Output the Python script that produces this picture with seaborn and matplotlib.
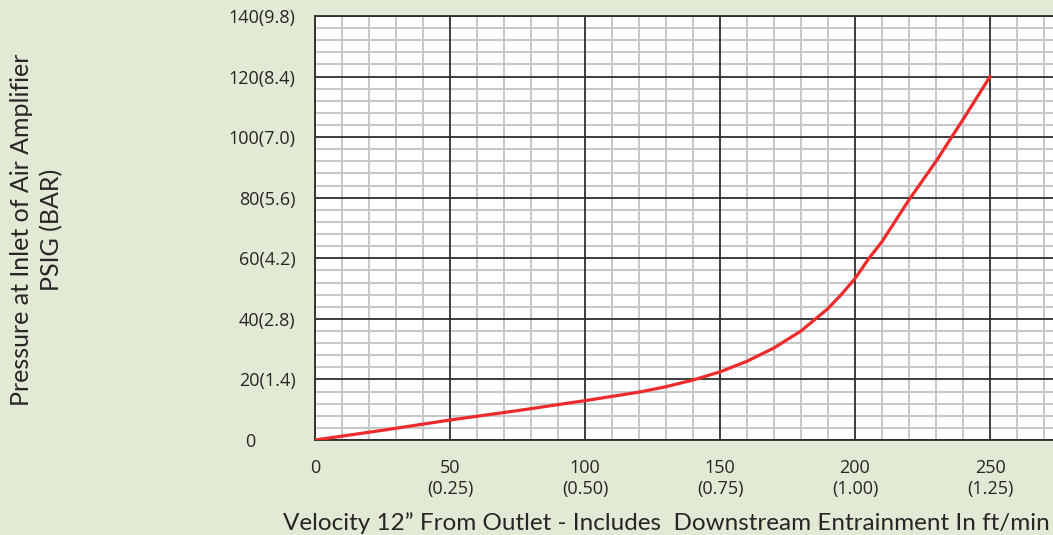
import matplotlib
matplotlib.use("Agg")
import matplotlib.pyplot as plt
import matplotlib.transforms as mtransforms
from matplotlib.ticker import MultipleLocator
import seaborn as sns
import pandas as pd

velocity = [0, 25, 50, 75, 100, 120, 130, 140, 150, 160, 170, 180, 185, 190, 195, 200, 205, 210, 215, 220, 230, 240, 250]
pressure = [0, 3.2, 6.6, 9.7, 13, 15.8, 17.6, 19.8, 22.5, 26, 30.4, 36, 39.7, 43.4, 48.1, 53.3, 59.8, 65.5, 72.4, 79.3, 92, 105.8, 120]

x_ticks = [0, 50, 100, 150, 200, 250]
x_tick_labels = ["0", "50\n(0.25)", "100\n(0.50)", "150\n(0.75)", "200\n(1.00)", "250\n(1.25)"]
y_ticks = [0, 20, 40, 60, 80, 100, 120, 140]
y_tick_labels = ["0", "20(1.4)", "40(2.8)", "60(4.2)", "80(5.6)", "100(7.0)", "120(8.4)", "140(9.8)"]

x_title = "Velocity 12\u201d From Outlet - Includes  Downstream Entrainment In ft/min"
y_title = "Pressure at Inlet of Air Amplifier\nPSIG (BAR)"

df = pd.DataFrame({"velocity": velocity, "pressure": pressure})

sns.set_theme(style="white")
plt.rcParams["font.family"] = ["Open Sans", "DejaVu Sans"]

bg = "#e2e9d5"
text_col = "#262626"
fig = plt.figure(figsize=(10.53, 5.35), dpi=100, facecolor=bg)
ax = fig.add_axes([315 / 1053, 1 - 440 / 535, (1053 - 315) / 1053, (440 - 16) / 535])
ax.set_facecolor("white")

ax.set_xlim(0, (1053 - 315) / 2.7)
ax.set_ylim(0, 140)

# minor grid
ax.xaxis.set_minor_locator(MultipleLocator(10))
ax.yaxis.set_minor_locator(MultipleLocator(4))
ax.grid(which="minor", color="#c6c6c6", linewidth=1.4)
ax.grid(which="major", visible=False)
ax.set_axisbelow(True)

# major grid drawn above the minor grid
for xv in x_ticks:
    ax.axvline(xv, color="#2e2e2e", linewidth=1.3, zorder=2)
for yv in y_ticks:
    ax.axhline(yv, color="#2e2e2e", linewidth=1.3, zorder=2)

sns.lineplot(data=df, x="velocity", y="pressure", ax=ax, color="#ee2a2a", linewidth=2.3, zorder=5)

ax.set_xticks(x_ticks)
ax.set_xticklabels(x_tick_labels, fontsize=13, color=text_col, linespacing=1.2)
ax.set_yticks(y_ticks)
ax.set_yticklabels(y_tick_labels, fontsize=13, color=text_col)
ax.tick_params(axis="both", which="both", length=0)
ax.tick_params(axis="y", pad=14)
ax.tick_params(axis="x", pad=14)

# "0" on the y axis sits further left in the reference
zero_lbl = ax.get_yticklabels()[0]
zero_lbl.set_transform(zero_lbl.get_transform() + mtransforms.ScaledTranslation(-40 / 100, 0, fig.dpi_scale_trans))

for side in ["left", "top", "bottom"]:
    ax.spines[side].set_color("#2e2e2e")
    ax.spines[side].set_linewidth(1.3)
ax.spines["right"].set_visible(False)

ax.set_xlabel("")
ax.set_ylabel("")

fig.text(283 / 1053, 1 - 530 / 535, x_title, fontsize=17.5, color=text_col, ha="left", va="baseline",
         family=["Lato", "DejaVu Sans"])
fig.text(37 / 1053, 1 - 230 / 535, y_title, fontsize=18, color=text_col, ha="center", va="center",
         rotation=90, linespacing=1.35, multialignment="center", family=["Lato", "DejaVu Sans"])

fig.savefig("out.png", dpi=100, facecolor=bg)
